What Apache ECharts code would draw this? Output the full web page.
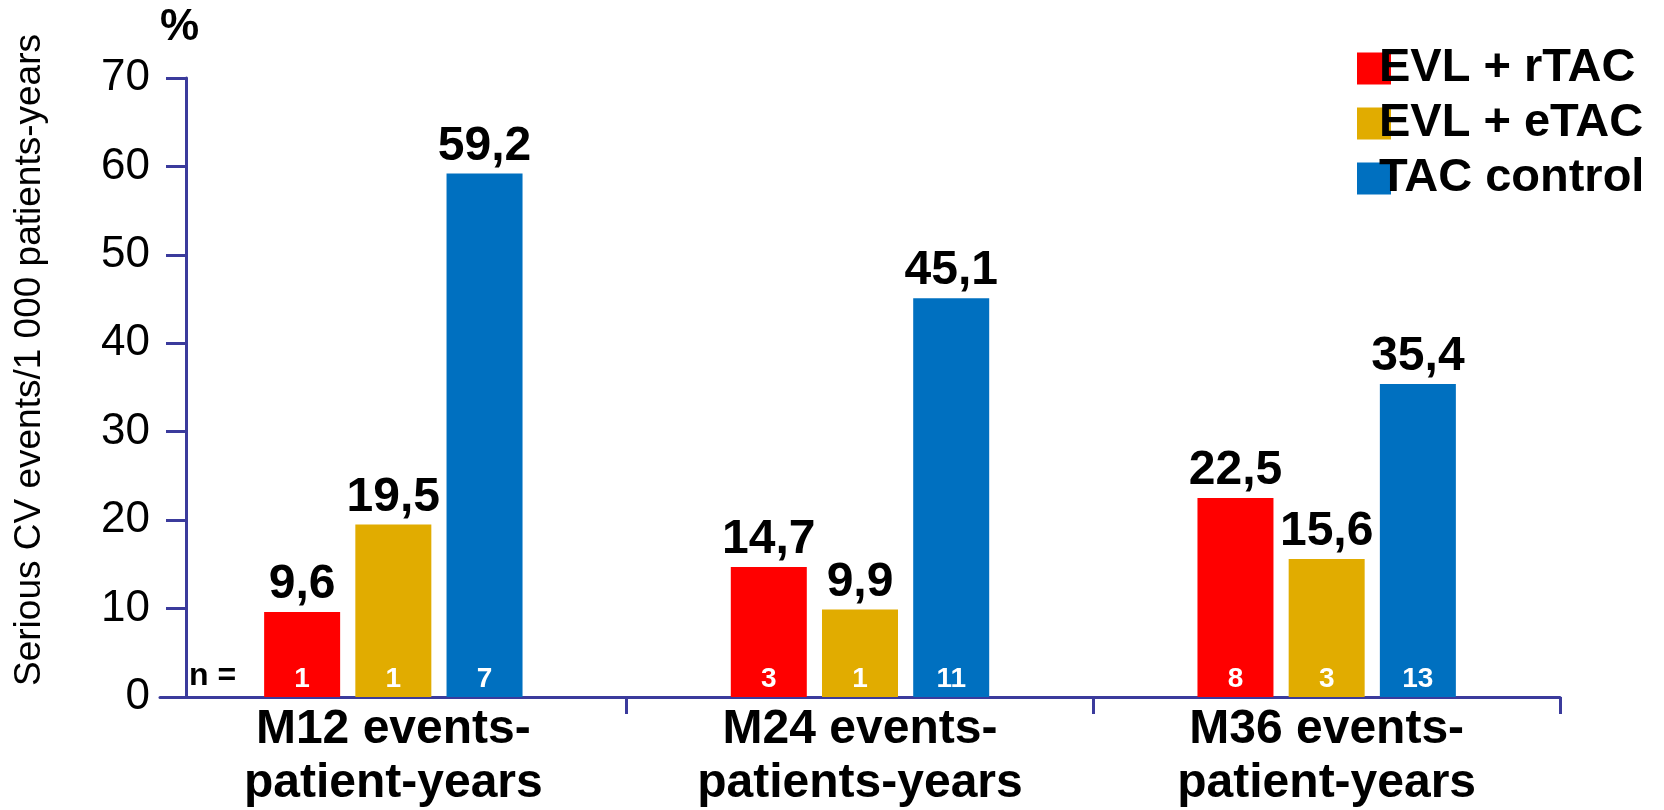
<!DOCTYPE html>
<html>
<head>
<meta charset="utf-8">
<script src="https://cdn.jsdelivr.net/npm/echarts@6/dist/echarts.min.js"></script>
<style>
  html, body { margin: 0; padding: 0; background: #fff; }
  #main { width: 1664px; height: 810px; }
</style>
</head>
<body>
<div id="main"></div>
<script>
var categories = ['M12 events-\npatient-years', 'M24 events-\npatients-years', 'M36 events-\npatient-years'];
var seriesNames = ['EVL + rTAC', 'EVL + eTAC', 'TAC control'];
var rTAC = [9.6, 14.7, 22.5];
var eTAC = [19.5, 9.9, 15.6];
var tacControl = [59.2, 45.1, 35.4];
var nRTAC = [1, 3, 8];
var nETAC = [1, 1, 3];
var nControl = [7, 11, 13];
var yTicks = [0, 10, 20, 30, 40, 50, 60, 70];

var colors = ['#ff0000', '#e1ac00', '#0070c0'];
var axisColor = '#3b3b9c';
var font = 'Liberation Sans, Arial, sans-serif';

var myChart = echarts.init(document.getElementById('main'));

var values = [rTAC, eTAC, tacControl];
var counts = [nRTAC, nETAC, nControl];

var series = [];
// main bars with value on top
values.forEach(function (d, i) {
    series.push({
        name: seriesNames[i],
        type: 'bar',
        xAxisIndex: 0,
        data: d,
        barWidth: 76,
        barGap: '20%',
        itemStyle: { color: colors[i] },
        label: {
            show: true,
            position: 'top',
            distance: 3,
            color: '#000',
            fontFamily: font,
            fontWeight: 'bold',
            fontSize: 48,
            formatter: function (p) { return String(p.value).replace('.', ','); }
        }
    });
});
// transparent overlay bars, only to carry the n = labels
values.forEach(function (d, i) {
    series.push({
        name: 'n' + i,
        type: 'bar',
        xAxisIndex: 1,
        data: d,
        barWidth: 76,
        barGap: '20%',
        silent: true,
        itemStyle: { color: 'rgba(0,0,0,0)' },
        label: {
            show: true,
            position: 'insideBottom',
            distance: 4,
            color: '#fff',
            fontFamily: font,
            fontWeight: 'bold',
            fontSize: 28,
            formatter: function (p) { return counts[i][p.dataIndex]; }
        }
    });
});

myChart.setOption({
    animation: false,
    grid: { left: 160, right: 104, top: 78, bottom: 113, outerBoundsMode: 'none', containLabel: false },
    legend: {
        data: seriesNames,
        orient: 'vertical',
        left: 1352,
        top: 40,
        itemWidth: 34,
        itemHeight: 32,
        itemGap: 8,
        icon: 'rect',
        textStyle: {
            color: '#000',
            fontFamily: font,
            fontWeight: 'bold',
            fontSize: 47,
            lineHeight: 45,
            padding: [0, 0, 0, -17]
        }
    },
    xAxis: [{
        type: 'category',
        data: categories,
        axisLine: { lineStyle: { color: axisColor, width: 3 } },
        axisTick: {
            show: true,
            interval: function (i) { return i !== 0; },
            length: 17,
            lineStyle: { color: axisColor, width: 3 }
        },
        axisLabel: {
            interval: 0,
            color: '#000',
            fontFamily: font,
            fontWeight: 'bold',
            fontSize: 48,
            lineHeight: 54,
            margin: 6
        }
    }, {
        type: 'category',
        data: categories,
        show: false
    }],
    yAxis: {
        type: 'value',
        min: 0,
        max: 70,
        interval: 10,
        offset: -26,
        axisLine: { show: true, lineStyle: { color: axisColor, width: 3 } },
        axisTick: { show: true, length: 20, lineStyle: { color: axisColor, width: 3 } },
        splitLine: { show: false },
        axisLabel: {
            color: '#000',
            fontFamily: font,
            fontSize: 44,
            margin: 36,
            formatter: function (v) { return yTicks.indexOf(v) >= 0 ? v : ''; }
        }
    },
    graphic: [{
        type: 'text',
        x: 30,
        y: 360,
        rotation: Math.PI / 2,
        style: {
            text: 'Serious CV events/1 000 patients-years',
            fill: '#000',
            font: '37px ' + font,
            align: 'center',
            verticalAlign: 'middle'
        }
    }, {
        type: 'text',
        left: 160,
        top: 6,
        style: { text: '%', fill: '#000', font: 'bold 44px ' + font }
    }, {
        type: 'text',
        left: 189,
        top: 660,
        style: { text: 'n =', fill: '#000', font: 'bold 32px ' + font }
    }],
    series: series
});
</script>
</body>
</html>
